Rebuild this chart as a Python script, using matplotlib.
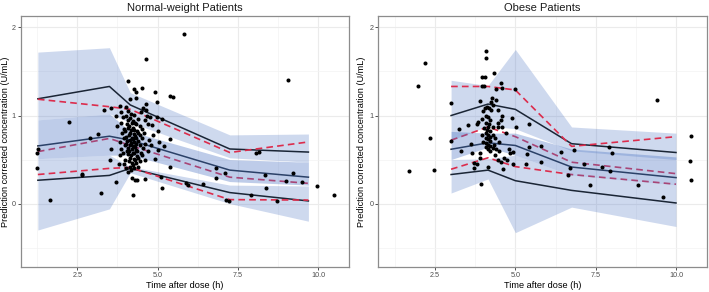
import matplotlib
matplotlib.use("Agg")
import matplotlib.pyplot as plt
from matplotlib.ticker import MultipleLocator

plt.rcParams["font.family"] = ["Liberation Sans", "DejaVu Sans"]

# ---- Normal-weight patients: binned VPC summaries ----
nw_bins = [1.27, 3.5, 4.15, 7.25, 9.7]
nw_obs_hi = [1.19, 1.33, 1.12, 0.62, 0.585]
nw_obs_med = [0.655, 0.765, 0.72, 0.38, 0.30]
nw_obs_lo = [0.265, 0.32, 0.40, 0.125, 0.03]
nw_sim_hi = [1.185, 1.10, 1.07, 0.58, 0.70]
nw_sim_med = [0.59, 0.74, 0.66, 0.30, 0.23]
nw_sim_lo = [0.33, 0.40, 0.41, 0.045, 0.04]
nw_hi_top = [1.72, 1.77, 1.26, 0.78, 0.79]
nw_hi_bot = [0.95, 1.02, 0.92, 0.52, 0.47]
nw_med_top = [0.95, 1.02, 0.82, 0.50, 0.47]
nw_med_bot = [0.51, 0.55, 0.55, 0.25, 0.21]
nw_lo_top = [0.51, 0.55, 0.42, 0.21, 0.20]
nw_lo_bot = [-0.30, -0.06, 0.35, 0.0, -0.20]

nw_points = [
    (1.27, 0.625), (1.24, 0.57), (1.23, 0.40), (1.65, 0.045), (2.25, 0.93),
    (2.64, 0.34), (2.66, 0.32), (2.89, 0.745), (3.13, 0.79), (3.24, 0.125),
    (3.33, 1.06), (3.55, 1.09), (3.55, 0.625), (3.53, 0.50), (3.72, 0.25),
    (4.07, 1.39), (4.27, 1.30), (4.34, 1.27), (4.51, 1.31), (4.65, 1.64),
    (4.93, 1.27), (5.38, 1.22), (5.49, 1.21), (4.32, 1.20), (4.14, 1.19),
    (4.98, 1.15), (4.63, 1.13), (3.83, 1.11), (5.82, 1.92), (9.07, 1.40),
    (4.03, 1.10), (4.65, 1.06), (4.66, 1.00), (4.97, 0.98), (5.13, 0.96),
    (5.39, 0.73), (4.82, 0.89), (4.24, 0.094), (4.19, 0.29), (4.29, 0.27),
    (4.36, 0.265), (4.60, 0.28), (5.12, 0.30), (5.14, 0.18), (4.91, 0.51),
    (5.02, 0.61), (5.40, 0.42), (5.90, 0.23), (5.95, 0.21), (6.41, 0.22),
    (6.81, 0.40), (6.81, 0.29), (7.09, 0.35), (7.14, 0.045), (7.22, 0.026),
    (7.92, 0.10), (8.07, 0.575), (8.17, 0.59), (8.36, 0.32), (8.38, 0.18),
    (8.71, 0.03), (9.00, 0.26), (9.21, 0.35), (9.50, 0.24), (9.97, 0.20),
    (10.50, 0.095), (4.80, 0.66), (4.85, 0.78), (5.00, 0.82), (5.05, 0.70),
    (5.20, 0.65), (4.75, 0.98), (4.55, 1.08), (3.75, 0.88), (3.70, 1.00),
    (3.80, 0.45),
    (3.84, 0.55), (3.87, 0.62), (3.83, 0.70), (3.88, 0.80), (3.85, 0.92), (3.86, 1.04),
    (3.95, 0.45), (3.93, 0.58), (3.97, 0.66), (3.94, 0.74), (3.96, 0.85), (3.93, 0.98),
    (4.02, 0.40), (4.00, 0.50), (4.04, 0.60), (4.01, 0.68), (4.03, 0.76), (4.00, 0.82),
    (4.04, 0.90), (4.02, 1.00),
    (4.08, 0.36), (4.10, 0.48), (4.07, 0.56), (4.09, 0.63), (4.06, 0.71), (4.10, 0.78),
    (4.08, 0.86), (4.07, 0.95), (4.09, 1.05),
    (4.13, 0.42), (4.15, 0.52), (4.12, 0.60), (4.14, 0.66), (4.13, 0.72), (4.15, 0.80),
    (4.12, 0.88), (4.14, 0.97),
    (4.18, 0.38), (4.20, 0.46), (4.17, 0.55), (4.19, 0.62), (4.18, 0.69), (4.20, 0.75),
    (4.17, 0.83), (4.19, 0.91), (4.18, 1.02),
    (4.23, 0.44), (4.25, 0.51), (4.22, 0.58), (4.24, 0.65), (4.23, 0.73), (4.25, 0.79),
    (4.22, 0.86), (4.24, 0.94),
    (4.28, 0.40), (4.30, 0.49), (4.27, 0.57), (4.29, 0.64), (4.28, 0.70), (4.30, 0.77),
    (4.27, 0.84), (4.29, 0.92), (4.28, 1.01),
    (4.33, 0.46), (4.35, 0.54), (4.32, 0.61), (4.34, 0.68), (4.33, 0.75), (4.35, 0.82),
    (4.32, 0.90),
    (4.38, 0.42), (4.40, 0.52), (4.37, 0.60), (4.39, 0.71), (4.38, 0.80), (4.40, 0.96),
    (4.45, 0.48), (4.47, 0.58), (4.44, 0.66), (4.46, 0.78), (4.45, 0.88), (4.47, 1.04),
    (4.52, 0.55), (4.54, 0.63), (4.51, 0.74), (4.53, 0.85),
    (4.60, 0.50), (4.62, 0.68), (4.59, 0.80), (4.61, 0.95),
    (4.70, 0.60), (4.72, 0.72), (4.69, 0.90),
]

# ---- Obese patients ----
ob_bins = [3.0, 4.15, 5.0, 6.75, 10.0]
ob_obs_hi = [1.0, 1.13, 1.07, 0.68, 0.58]
ob_obs_med = [0.617, 0.69, 0.66, 0.415, 0.295]
ob_obs_lo = [0.33, 0.38, 0.26, 0.15, 0.007]
ob_sim_hi = [1.33, 1.33, 1.29, 0.65, 0.76]
ob_sim_med = [0.72, 0.87, 0.76, 0.47, 0.34]
ob_sim_lo = [0.39, 0.52, 0.42, 0.33, 0.22]
ob_hi_top = [1.40, 1.34, 1.75, 0.87, 0.80]
ob_hi_bot = [0.72, 0.88, 0.85, 0.60, 0.50]
ob_med_top = [0.82, 0.80, 0.80, 0.62, 0.53]
ob_med_bot = [0.50, 0.64, 0.55, 0.32, 0.21]
ob_lo_top = [0.50, 0.51, 0.55, 0.32, 0.21]
ob_lo_bot = [0.12, 0.28, -0.33, -0.04, -0.26]

ob_points = [
    (1.69, 0.37), (1.98, 1.33), (2.19, 1.60), (2.34, 0.75), (2.48, 0.38),
    (2.99, 1.14), (3.00, 0.71), (3.26, 0.85), (3.30, 0.60), (3.54, 0.89),
    (3.62, 0.68), (3.66, 0.57), (3.70, 0.46), (3.70, 0.40), (3.80, 0.45),
    (3.80, 0.90), (3.91, 0.57), (3.91, 0.52), (3.94, 0.22), (3.95, 1.44),
    (4.05, 1.44), (3.97, 1.34), (4.02, 1.34), (4.08, 1.73), (4.10, 1.65),
    (4.35, 1.48), (4.56, 1.37), (4.59, 1.31), (4.99, 1.30), (4.16, 0.42),
    (4.61, 0.39), (4.37, 0.55), (4.45, 0.50), (4.55, 0.47), (4.65, 0.52),
    (4.74, 0.49), (4.84, 0.57), (4.92, 0.59), (4.94, 0.45), (4.89, 0.97),
    (5.01, 0.87), (5.43, 0.90), (5.42, 0.64), (5.34, 0.45), (5.37, 0.56),
    (5.79, 0.65), (5.80, 0.47), (6.41, 0.59), (6.64, 0.33), (6.71, 0.40),
    (6.83, 0.61), (7.14, 0.45), (7.32, 0.21), (7.69, 0.42), (7.92, 0.645),
    (8.00, 0.58), (7.96, 0.37), (8.82, 0.216), (9.41, 1.18), (9.59, 0.07),
    (10.47, 0.765), (10.45, 0.48), (10.46, 0.27),
    (4.06, 1.09), (4.12, 1.10), (4.18, 1.08), (4.25, 1.06), (4.00, 1.05),
    (4.08, 1.00), (4.14, 0.98), (4.20, 0.95), (4.10, 0.92), (4.18, 0.90),
    (4.02, 0.86), (4.12, 0.84), (4.20, 0.82), (4.10, 0.80), (4.15, 0.78),
    (4.22, 0.76), (4.08, 0.75), (4.14, 0.73), (4.20, 0.71), (4.10, 0.69),
    (4.16, 0.67), (4.22, 0.65), (4.08, 0.64), (4.14, 0.62), (4.20, 0.60),
    (4.30, 0.63), (4.35, 0.66), (4.40, 0.62), (4.48, 0.60), (4.30, 0.78),
    (4.38, 0.75), (4.00, 0.70), (3.95, 0.78), (3.85, 0.93), (3.95, 0.96),
    (4.16, 0.87), (4.30, 0.87), (4.45, 0.87), (4.57, 0.87), (4.45, 0.92),
    (4.55, 0.95), (4.60, 1.00), (4.45, 1.06), (4.25, 1.15), (4.32, 1.12),
    (3.90, 1.17), (4.72, 0.80), (4.80, 0.62), (4.50, 0.70), (4.27, 1.20),
    (4.40, 1.18), (4.40, 1.30),
]

BAND = (75 / 255, 115 / 255, 195 / 255)
DARK = "#1a2535"
RED = "#dc2c4c"
W, H = 709, 292


def draw_panel(ax, title, bins, bands, obs, sim, points):
    hi_top, hi_bot, med_top, med_bot, lo_top, lo_bot = bands
    ax.fill_between(bins, hi_bot, hi_top, color=BAND, alpha=0.27, lw=0, zorder=1)
    ax.fill_between(bins, lo_bot, lo_top, color=BAND, alpha=0.27, lw=0, zorder=1)
    for series in obs:
        ax.plot(bins, series, color=DARK, lw=1.1, zorder=2)
    for series in sim:
        ax.plot(bins, series, color=RED, lw=1.2, ls=(0, (4, 2.5)), zorder=2)
    ax.fill_between(bins, med_bot, med_top, color=BAND, alpha=0.36, lw=0, zorder=3)

    xs = [p[0] for p in points]
    ys = [p[1] for p in points]
    ax.scatter(xs, ys, s=8.5, color="black", lw=0, zorder=4)

    ax.set_xlim(0.735, 10.965)
    ax.set_ylim(-0.72, 2.13)
    ax.xaxis.set_minor_locator(MultipleLocator(1.25))
    ax.yaxis.set_minor_locator(MultipleLocator(0.5))
    ax.set_xticks([2.5, 5.0, 7.5, 10.0])
    ax.set_xticklabels(["2.5", "5.0", "7.5", "10.0"])
    ax.set_yticks([0, 1, 2])
    ax.grid(which="major", color="#ebebeb", lw=0.8, zorder=0)
    ax.grid(which="minor", color="#f3f3f3", lw=0.5, zorder=0)
    ax.set_axisbelow(True)
    ax.tick_params(which="major", length=2, width=0.6, color="#333333",
                   labelsize=5.2, labelcolor="#4d4d4d", pad=1.5)
    ax.tick_params(which="minor", length=0)
    for sp in ax.spines.values():
        sp.set_color("#8c8c8c")
        sp.set_linewidth(0.9)
    ax.set_title(title, fontsize=8, pad=3.5, color="#1a1a1a")


fig = plt.figure(figsize=(W / 100, H / 100), dpi=100)
ax_nw = fig.add_axes([20.7 / W, 1 - 267 / H, 328.3 / W, 251 / H])
ax_ob = fig.add_axes([378.3 / W, 1 - 267 / H, 328.7 / W, 251 / H])

draw_panel(ax_nw, "Normal-weight Patients", nw_bins,
           (nw_hi_top, nw_hi_bot, nw_med_top, nw_med_bot, nw_lo_top, nw_lo_bot),
           (nw_obs_hi, nw_obs_med, nw_obs_lo),
           (nw_sim_hi, nw_sim_med, nw_sim_lo), nw_points)
draw_panel(ax_ob, "Obese Patients", ob_bins,
           (ob_hi_top, ob_hi_bot, ob_med_top, ob_med_bot, ob_lo_top, ob_lo_bot),
           (ob_obs_hi, ob_obs_med, ob_obs_lo),
           (ob_sim_hi, ob_sim_med, ob_sim_lo), ob_points)

ylab = "Prediction corrected concentration (U/mL)"
ymid = 1 - 141.5 / H
fig.text(5.5 / W, ymid, ylab, rotation=90, ha="center", va="center", fontsize=6.6)
fig.text(361.5 / W, ymid, ylab, rotation=90, ha="center", va="center", fontsize=6.6)
fig.text(185 / W, 1 - 285.5 / H, "Time after dose (h)", ha="center", va="center", fontsize=6.6)
fig.text(543 / W, 1 - 285.5 / H, "Time after dose (h)", ha="center", va="center", fontsize=6.6)

fig.savefig("out.png", dpi=100)
